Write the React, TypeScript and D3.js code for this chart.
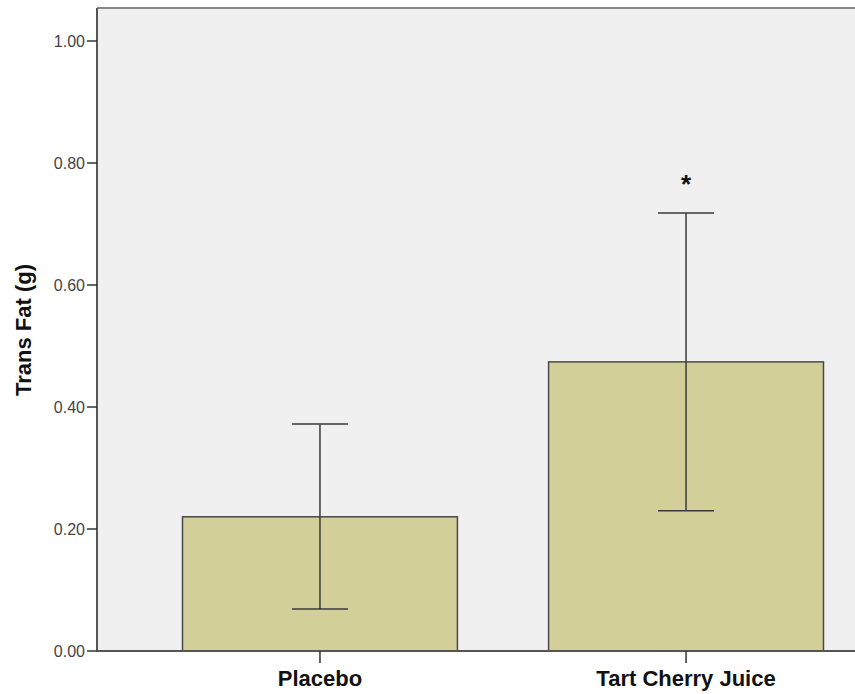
import React from 'react'
import * as d3 from 'd3'

const categories = ['Placebo', 'Tart Cherry Juice']
const means = [0.22, 0.474]
const errLow = [0.069, 0.23]
const errHigh = [0.372, 0.718]
const significant = [false, true]
const yTicks = [0, 0.2, 0.4, 0.6, 0.8, 1.0]

export default function App() {
  const width = 855
  const height = 694
  const left = 97
  const top = 8
  const bottom = 651

  const y = d3.scaleLinear().domain([0, 1]).range([bottom, 41])
  const x = d3.scaleBand<string>()
    .domain(categories)
    .range([left, 909])
    .paddingInner(0.249)
    .paddingOuter(0.2336)

  const capHalf = 28
  const font = 'Arial, "Liberation Sans", sans-serif'

  return (
    <svg width={width} height={height} style={{ position: 'absolute', left: 0, top: 0 }}>
      <rect x={0} y={0} width={width} height={height} fill="#ffffff" />
      {/* plot background */}
      <rect x={left} y={top} width={909 - left} height={bottom - top} fill="#f0f0f0" />
      <line x1={left} x2={909} y1={top} y2={top} stroke="#888" strokeWidth={2} />

      {/* bars */}
      {categories.map((c, i) => (
        <rect
          key={c}
          x={x(c)!}
          y={y(means[i])}
          width={x.bandwidth()}
          height={y(0) - y(means[i])}
          fill="#d3cf98"
          stroke="#4a4a4a"
          strokeWidth={1.5}
        />
      ))}

      {/* error bars */}
      {categories.map((c, i) => {
        const cx = x(c)! + x.bandwidth() / 2
        return (
          <g key={c + '-err'} stroke="#3a3a3a" strokeWidth={1.5}>
            <line x1={cx} x2={cx} y1={y(errHigh[i])} y2={y(errLow[i])} />
            <line x1={cx - capHalf} x2={cx + capHalf} y1={y(errHigh[i])} y2={y(errHigh[i])} />
            <line x1={cx - capHalf} x2={cx + capHalf} y1={y(errLow[i])} y2={y(errLow[i])} />
          </g>
        )
      })}

      {/* significance markers */}
      {categories.map((c, i) =>
        significant[i] ? (
          <text
            key={c + '-sig'}
            x={x(c)! + x.bandwidth() / 2}
            y={y(errHigh[i]) - 20}
            textAnchor="middle"
            fontFamily={font}
            fontWeight="bold"
            fontSize={26}
            fill="#111"
          >
            *
          </text>
        ) : null
      )}

      {/* axes */}
      <line x1={left} x2={left} y1={top} y2={bottom + 1} stroke="#555" strokeWidth={2} />
      <line x1={left} x2={909} y1={bottom} y2={bottom} stroke="#555" strokeWidth={2} />

      {yTicks.map(t => (
        <g key={t}>
          <line x1={left - 10} x2={left} y1={y(t)} y2={y(t)} stroke="#333" strokeWidth={1.5} />
          <text
            x={left - 12}
            y={y(t)}
            dy="0.36em"
            textAnchor="end"
            fontFamily={font}
            fontSize={16}
            fill="#444"
          >
            {t.toFixed(2)}
          </text>
        </g>
      ))}

      {categories.map(c => {
        const cx = x(c)! + x.bandwidth() / 2
        return (
          <g key={c + '-tick'}>
            <line x1={cx} x2={cx} y1={bottom} y2={bottom + 12} stroke="#333" strokeWidth={1.5} />
            <text
              x={cx}
              y={686}
              textAnchor="middle"
              fontFamily={font}
              fontWeight="bold"
              fontSize={22}
              fill="#111"
            >
              {c}
            </text>
          </g>
        )
      })}

      <text
        transform={`translate(31, ${330}) rotate(-90)`}
        textAnchor="middle"
        fontFamily={font}
        fontWeight="bold"
        fontSize={22}
        fill="#111"
      >
        Trans Fat (g)
      </text>
    </svg>
  )
}
